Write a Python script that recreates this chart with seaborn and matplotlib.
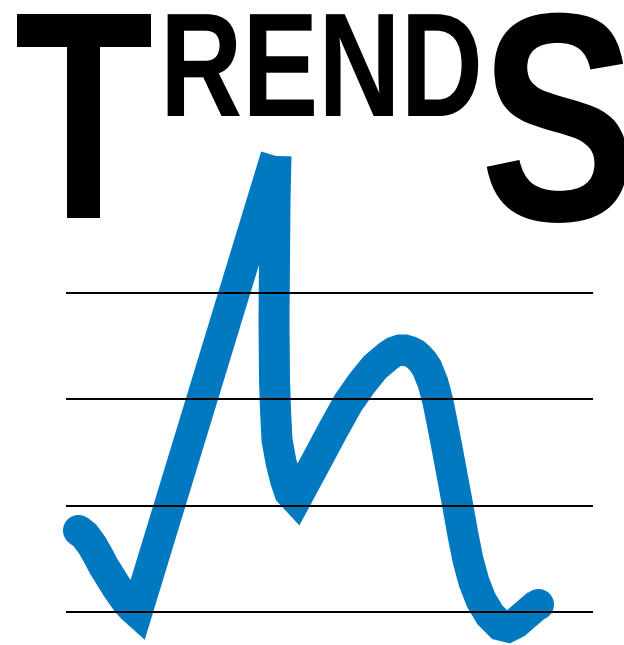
import matplotlib
matplotlib.use("Agg")
import matplotlib.pyplot as plt
from matplotlib.patheffects import AbstractPathEffect
from matplotlib.transforms import Affine2D
import seaborn as sns
import pandas as pd

# ---- data (x to the right, y upward) ----
trend_x = [78, 85, 92, 98, 103.5, 110, 116.5, 122, 127, 132, 137,
           276, 275, 274.5, 274, 274.5, 275.5, 277, 281, 285.5, 289.5, 296,
           317, 333, 348, 362, 375, 388, 394, 400, 405, 410, 415, 419, 423,
           427, 433, 438, 443, 448, 453, 458, 463, 468, 474, 481, 490, 500,
           508, 516, 524, 531, 538]
trend_y = [115, 109.5, 100, 89.5, 79, 68.5, 58, 50, 43, 37.5, 33,
           489, 445, 385, 325, 265, 235, 205, 183, 165, 153, 146,
           185, 215, 242, 262, 278, 289, 293, 295, 295, 293.5, 291, 287.5, 283,
           277, 262, 243, 218, 192, 165, 138, 110, 85, 63, 45, 30, 20,
           18, 22, 29, 35, 41]
grid_levels = [351.7, 245.7, 139.3, 33.3]
grid_start, grid_end = 66, 593

title_big_left = "T"
title_small = "REND"
title_big_right = "S"

W, H = 624, 645
BLUE = "#0079c1"
LW = 31 * 0.72


class Stretch(AbstractPathEffect):
    """Stretch glyphs vertically about the baseline (condensed look)."""
    def __init__(self, sy, y0):
        super().__init__()
        self.sy = sy
        self.y0 = y0

    def draw_path(self, renderer, gc, tpath, affine, rgbFace=None):
        t = affine + Affine2D().translate(0, -self.y0).scale(1, self.sy).translate(0, self.y0)
        renderer.draw_path(gc, tpath, t, rgbFace)


sns.set_style("white")
fig = plt.figure(figsize=(W / 100, H / 100), dpi=100)
ax = fig.add_axes([0, 0, 1, 1])
ax.set_xlim(0, W)
ax.set_ylim(0, H)
ax.axis("off")

df = pd.DataFrame({"x": trend_x, "y": trend_y})
k = int(df["y"].idxmax())          # the sharp spike: flat-cut top
part_a = df.iloc[:k + 1]
part_b = df.iloc[k:]
common = dict(sort=False, estimator=None, ax=ax, color=BLUE, linewidth=LW,
              solid_capstyle="butt", solid_joinstyle="miter", zorder=2,
              marker="o", markersize=LW, markeredgewidth=0)
sns.lineplot(data=part_a, x="x", y="y", markevery=[0], **common)
sns.lineplot(data=part_b, x="x", y="y", markevery=[len(part_b) - 1], **common)

ax.hlines(grid_levels, grid_start, grid_end, color="black",
          linewidth=2 * 0.72, zorder=3)

fam = ["Liberation Sans", "DejaVu Sans"]
px = 0.72  # points per pixel


def condensed_text(x, baseline, s, size_px, sx):
    y = H - baseline
    ax.text(x, y, s, fontsize=size_px * sx * px, fontweight="bold",
            family=fam, ha="left", va="baseline", color="black",
            path_effects=[Stretch(1.0 / sx, y)])


condensed_text(14, 218, title_big_left, 296, 0.77)
condensed_text(160, 116, title_small, 148, 0.77)
condensed_text(480, 220, title_big_right, 297, 0.79)

fig.savefig("out.png", dpi=100)
